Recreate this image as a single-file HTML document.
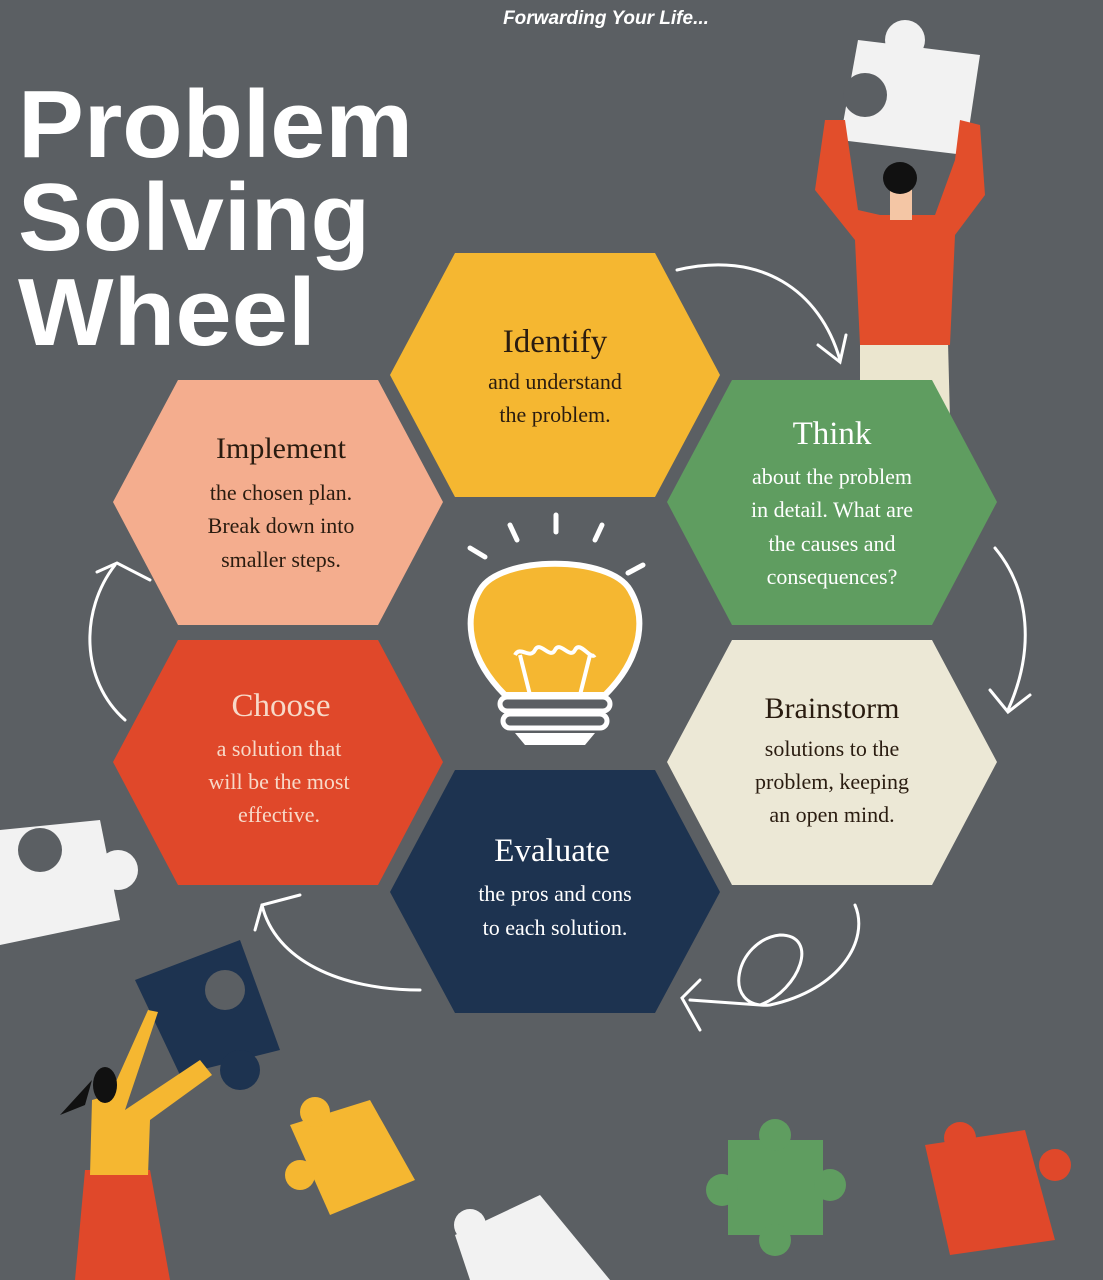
<!DOCTYPE html>
<html><head><meta charset="utf-8"><style>
html,body{margin:0;padding:0;background:#5b5f63;}
svg{display:block}
.t{font-family:"Liberation Serif",serif;text-anchor:middle}
</style></head><body>
<svg width="1103" height="1280" viewBox="0 0 1103 1280" xmlns="http://www.w3.org/2000/svg">
<rect width="1103" height="1280" fill="#5b5f63"/>
<text x="606" y="24" font-family="Liberation Sans,sans-serif" font-weight="bold" font-style="italic" font-size="19" fill="#fff" text-anchor="middle">Forwarding Your Life...</text>
<g font-family="Liberation Sans,sans-serif" font-weight="bold" font-size="96" fill="#fff">
<text x="18" y="157" textLength="395" lengthAdjust="spacingAndGlyphs">Problem</text>
<text x="18" y="250" textLength="352" lengthAdjust="spacingAndGlyphs">Solving</text>
<text x="18" y="345" textLength="298" lengthAdjust="spacingAndGlyphs">Wheel</text>
</g>
<!-- man top right -->
<g>
<path d="M858 40 L980 55 L965 155 L840 140 Z" fill="#f2f2f2"/>
<circle cx="865" cy="95" r="22" fill="#5b5f63"/>
<circle cx="905" cy="40" r="20" fill="#f2f2f2"/>
<path d="M860 230 L945 225 L950 420 L860 420 Z" fill="#ebe6cf"/>
<path d="M825 120 L845 120 L858 210 L880 215 L935 215 L955 160 L960 120 L980 125 L985 195 L955 235 L950 345 L860 345 L855 240 L815 190 Z" fill="#e24e2b"/>
<rect x="890" y="180" width="22" height="40" fill="#f4c6a5"/>
<ellipse cx="900" cy="178" rx="17" ry="16" fill="#111"/>
</g>
<!-- hexagons -->
<polygon points="390,375 455,253 655,253 720,375 655,497 455,497" fill="#f5b731"/>
<polygon points="667,502 732,380 932,380 997,502 932,625 732,625" fill="#5f9d60"/>
<polygon points="667,762 732,640 932,640 997,762 932,885 732,885" fill="#ece8d6"/>
<polygon points="390,892 455,770 655,770 720,892 655,1013 455,1013" fill="#1d3350"/>
<polygon points="113,762 178,640 378,640 443,762 378,885 178,885" fill="#e0482a"/>
<polygon points="113,502 178,380 378,380 443,502 378,625 178,625" fill="#f4ad8e"/>
<g class="t">
<text x="555" y="352" font-size="33" fill="#2a1c10">Identify</text>
<text x="555" y="389" font-size="22" fill="#2a1c10">and understand</text>
<text x="555" y="422" font-size="22" fill="#2a1c10">the problem.</text>
<text x="832" y="444" font-size="33" fill="#fff">Think</text>
<text x="832" y="484" font-size="22" fill="#fff">about the problem</text>
<text x="832" y="517" font-size="22" fill="#fff">in detail. What are</text>
<text x="832" y="551" font-size="22" fill="#fff">the causes and</text>
<text x="832" y="584" font-size="22" fill="#fff">consequences?</text>
<text x="832" y="718" font-size="30" fill="#2a1c10">Brainstorm</text>
<text x="832" y="756" font-size="22" fill="#2a1c10">solutions to the</text>
<text x="832" y="789" font-size="22" fill="#2a1c10">problem, keeping</text>
<text x="832" y="822" font-size="22" fill="#2a1c10">an open mind.</text>
<text x="552" y="861" font-size="33" fill="#fff">Evaluate</text>
<text x="555" y="901" font-size="22" fill="#fff">the pros and cons</text>
<text x="555" y="935" font-size="22" fill="#fff">to each solution.</text>
<text x="281" y="716" font-size="33" fill="#f7d9c8">Choose</text>
<text x="279" y="756" font-size="22" fill="#f7d9c8">a solution that</text>
<text x="279" y="789" font-size="22" fill="#f7d9c8">will be the most</text>
<text x="279" y="822" font-size="22" fill="#f7d9c8">effective.</text>
<text x="281" y="458" font-size="30" fill="#2a1c10">Implement</text>
<text x="281" y="500" font-size="22" fill="#2a1c10">the chosen plan.</text>
<text x="281" y="533" font-size="22" fill="#2a1c10">Break down into</text>
<text x="281" y="567" font-size="22" fill="#2a1c10">smaller steps.</text>
</g>
<!-- lightbulb -->
<g stroke="#fff" stroke-width="5" stroke-linecap="round" fill="none">
<line x1="510" y1="525" x2="517" y2="540"/><line x1="556" y1="515" x2="556" y2="532"/>
<line x1="602" y1="525" x2="595" y2="540"/><line x1="470" y1="548" x2="485" y2="557"/>
<line x1="643" y1="565" x2="628" y2="573"/>
</g>
<path d="M505 695 C470 660 462 620 480 590 C500 555 610 555 630 590 C648 620 640 660 605 695 Z" fill="#f5b731" stroke="#fff" stroke-width="6"/>
<path d="M530 695 L520 655 M580 695 L590 655 M515 655 C520 645 530 660 535 650 C540 640 550 660 555 650 C560 640 570 660 575 650 C580 640 590 660 595 655" stroke="#fff" stroke-width="4" fill="none"/>
<rect x="500" y="697" width="110" height="14" rx="7" fill="#5b5f63" stroke="#fff" stroke-width="5"/>
<rect x="503" y="714" width="104" height="14" rx="7" fill="#5b5f63" stroke="#fff" stroke-width="5"/>
<path d="M515 733 L595 733 L585 745 L525 745 Z" fill="#fff"/>
<!-- arrows -->
<g stroke="#fff" stroke-width="3" fill="none" stroke-linecap="round">
<path d="M677 270 C760 250 820 290 840 360"/><path d="M818 345 L840 362 L846 335"/>
<path d="M995 548 C1030 590 1035 650 1008 710"/><path d="M990 690 L1008 712 L1030 695"/>
<path d="M855 905 C870 940 840 990 770 1005 C720 1010 735 940 780 935 C820 935 800 990 760 1005 L690 1000"/><path d="M700 980 L682 998 L700 1030"/>
<path d="M420 990 C340 990 275 960 262 905"/><path d="M255 930 L262 905 L300 895"/>
<path d="M125 720 C80 680 80 610 115 565"/><path d="M97 572 L117 563 L150 580"/>
</g>
<!-- puzzle pieces -->
<g fill="#f2f2f2"><path d="M0 830 L100 820 L120 920 L0 945 Z"/><circle cx="40" cy="850" r="22" fill="#5b5f63"/><circle cx="118" cy="870" r="20"/></g>
<g fill="#1d3350"><path d="M135 980 L240 940 L280 1050 L180 1075 Z"/><circle cx="240" cy="1070" r="20"/><circle cx="225" cy="990" r="20" fill="#5b5f63"/></g>
<g fill="#f5b731"><path d="M290 1125 L370 1100 L415 1180 L330 1215 Z"/><circle cx="315" cy="1112" r="15"/><circle cx="300" cy="1175" r="15"/></g>
<g fill="#f2f2f2"><path d="M455 1235 L540 1195 L610 1280 L470 1280 Z"/><circle cx="470" cy="1225" r="16"/></g>
<g fill="#5f9d60"><rect x="728" y="1140" width="95" height="95"/><circle cx="775" cy="1135" r="16"/><circle cx="722" cy="1190" r="16"/><circle cx="830" cy="1185" r="16"/><circle cx="775" cy="1240" r="16"/></g>
<g fill="#e0482a"><path d="M925 1145 L1025 1130 L1055 1240 L950 1255 Z"/><circle cx="960" cy="1138" r="16"/><circle cx="1055" cy="1165" r="16"/></g>
<!-- woman -->
<g>
<path d="M85 1170 L150 1170 L170 1280 L75 1280 Z" fill="#e0482a"/>
<path d="M92 1100 L110 1095 L148 1010 L158 1012 L125 1110 L200 1060 L212 1075 L150 1120 L148 1175 L90 1175 Z" fill="#f5b731"/>
<ellipse cx="105" cy="1085" rx="12" ry="18" fill="#111"/>
<path d="M92 1080 L60 1115 L85 1105 Z" fill="#111"/>
</g>
</svg>
</body></html>
